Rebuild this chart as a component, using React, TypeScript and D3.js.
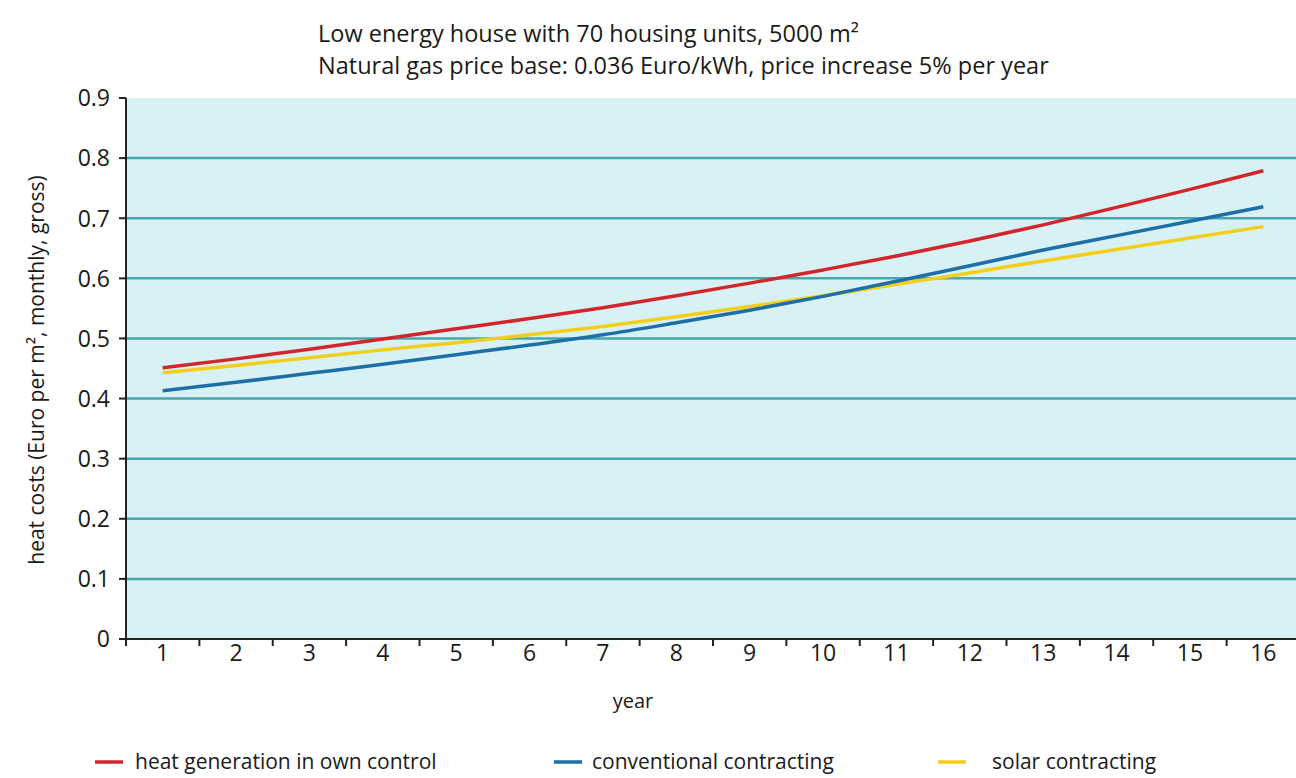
import * as d3 from "d3";

const years = [1, 2, 3, 4, 5, 6, 7, 8, 9, 10, 11, 12, 13, 14, 15, 16];
const ownControl = [0.451, 0.466, 0.482, 0.499, 0.516, 0.533, 0.551, 0.571, 0.592, 0.614, 0.637, 0.662, 0.689, 0.718, 0.748, 0.779];
const conventional = [0.413, 0.427, 0.442, 0.457, 0.473, 0.489, 0.506, 0.526, 0.547, 0.57, 0.595, 0.621, 0.647, 0.671, 0.695, 0.719];
const solar = [0.443, 0.455, 0.468, 0.481, 0.493, 0.506, 0.52, 0.536, 0.553, 0.571, 0.59, 0.609, 0.629, 0.648, 0.667, 0.686];
const yTicks = [0, 0.1, 0.2, 0.3, 0.4, 0.5, 0.6, 0.7, 0.8, 0.9];
const gridValues = [0.1, 0.2, 0.3, 0.4, 0.5, 0.6, 0.7, 0.8];

const series = [
  { name: "heat generation in own control", values: ownControl, color: "#d3262c" },
  { name: "solar contracting", values: solar, color: "#f3cf1c" },
  { name: "conventional contracting", values: conventional, color: "#1d6fa6" },
];

const W = 1296;
const H = 778;
const FONT = "'Open Sans', sans-serif";
const INK = "#1a1a1a";

const App = () => {
  const x = d3.scaleBand<number>().domain(years).range([126, 1300]).padding(0);
  const y = d3.scaleLinear().domain([0, 0.9]).range([639, 98]);
  const cx = (yr: number) => (x(yr) ?? 0) + x.bandwidth() / 2;

  const line = d3
    .line<number>()
    .x((_, i) => cx(years[i]))
    .y((d) => y(d))
    .curve(d3.curveMonotoneX);

  const boundaries = [...years.map((yr) => x(yr) ?? 0), x.range()[1]];

  return (
    <svg
      width={W}
      height={H}
      style={{ position: "absolute", left: 0, top: 0, background: "#fff" }}
      fontFamily={FONT}
    >
      {/* plot background */}
      <rect x={126} y={y(0.9)} width={W - 126} height={y(0) - y(0.9)} fill="#d8f1f4" />

      {/* grid */}
      {gridValues.map((v) => (
        <line key={v} x1={126} x2={W} y1={y(v)} y2={y(v)} stroke="#47a7ab" strokeWidth={2.5} />
      ))}

      {/* series */}
      {series.map((s) => (
        <path key={s.name} d={line(s.values) ?? ""} fill="none" stroke={s.color} strokeWidth={3.5} />
      ))}

      {/* y axis */}
      <line x1={126} x2={126} y1={y(0.9)} y2={y(0) + 6} stroke="#222" strokeWidth={2} />
      {yTicks.map((v) => (
        <g key={v}>
          <line x1={119} x2={126} y1={y(v)} y2={y(v)} stroke="#222" strokeWidth={2} />
          <text x={110} y={y(v)} dy="0.36em" textAnchor="end" fontSize={23} fill={INK}>
            {v === 0 ? "0" : v.toFixed(1)}
          </text>
        </g>
      ))}

      {/* x axis */}
      <line x1={119} x2={W} y1={y(0)} y2={y(0)} stroke="#222" strokeWidth={2} />
      {boundaries.map((b, i) => (
        <line key={i} x1={b} x2={b} y1={y(0)} y2={y(0) + 7} stroke="#222" strokeWidth={2} />
      ))}
      {years.map((yr) => (
        <text key={yr} x={cx(yr)} y={661} textAnchor="middle" fontSize={23} fill={INK}>
          {yr}
        </text>
      ))}
      <text x={633} y={708} textAnchor="middle" fontSize={20} fill={INK}>
        year
      </text>

      {/* y label */}
      <text
        transform={`translate(44,370) rotate(-90)`}
        textAnchor="middle"
        fontSize={21}
        fill={INK}
      >
        heat costs (Euro per m², monthly, gross)
      </text>

      {/* titles */}
      <text x={318} y={42} fontSize={23.5} fill={INK}>
        Low energy house with 70 housing units, 5000 m²
      </text>
      <text x={318} y={74} fontSize={23.5} fill={INK}>
        Natural gas price base: 0.036 Euro/kWh, price increase 5% per year
      </text>

      {/* legend */}
      {[
        { s: series[0], lx: 95, tx: 135 },
        { s: series[2], lx: 554, tx: 592 },
        { s: series[1], lx: 938, tx: 992 },
      ].map(({ s, lx, tx }) => (
        <g key={s.name}>
          <line x1={lx} x2={lx + 28} y1={762} y2={762} stroke={s.color} strokeWidth={3.5} />
          <text x={tx} y={769} fontSize={21} fill={INK}>
            {s.name}
          </text>
        </g>
      ))}
    </svg>
  );
};

export default App;
